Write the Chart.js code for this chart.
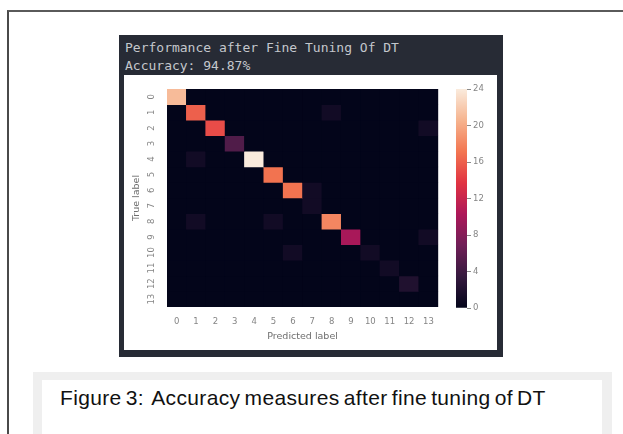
<!DOCTYPE html>
<html>
<head>
<meta charset="utf-8">
<script src="https://cdn.jsdelivr.net/npm/chart.js@4.4.1/dist/chart.umd.min.js"></script>
<style>
html, body { margin:0; padding:0; background:#fff; width:623px; height:434px; overflow:hidden; }
#frame { position:absolute; left:7px; top:10px; width:660px; height:460px; border-left:2px solid #4a4a4a; border-top:2px solid #5a5a5a; }
#panel { position:absolute; left:119px; top:35px; width:384px; height:322px; background:#272b35; }
#head { position:absolute; left:125px; top:39px; font:13px "DejaVu Sans Mono", monospace; color:#c4c7cc; line-height:18px; white-space:pre; }
#sheet { position:absolute; left:124px; top:75px; width:373px; height:275px; background:#fff; }
#heat { position:absolute; left:124px; top:75px; }
#cbar { position:absolute; left:450px; top:75px; }
#cap { position:absolute; left:33px; top:372px; width:579px; height:80px; background:#efefef; }
#capin { position:absolute; left:42px; top:380px; width:560px; height:70px; background:#fff; }
#captxt { position:absolute; left:60px; top:386px; font:21px "Liberation Sans", Arial, sans-serif; color:#111; white-space:pre; word-spacing:-2px; letter-spacing:0.35px; }
</style>
</head>
<body>
<div id="frame"></div>
<div id="panel"></div>
<div id="head">Performance after Fine Tuning Of DT
Accuracy: 94.87%</div>
<div id="sheet"></div>
<canvas id="heat" width="320" height="275"></canvas>
<canvas id="cbar" width="45" height="275"></canvas>
<div id="cap"></div>
<div id="capin"></div>
<div id="captxt">Figure 3:  Accuracy measures after fine tuning of DT</div>
<script>
// class labels (true = rows, predicted = columns)
const classLabels = ['0','1','2','3','4','5','6','7','8','9','10','11','12','13'];

// confusion matrix, one row per true label
const row0  = [21,0,0,0,0,0,0,0,0,0,0,0,0,0];
const row1  = [0,16,0,0,0,0,0,0,1,0,0,0,0,0];
const row2  = [0,0,15,0,0,0,0,0,0,0,0,0,0,1];
const row3  = [0,0,0,5,0,0,0,0,0,0,0,0,0,0];
const row4  = [0,1,0,0,24,0,0,0,0,0,0,0,0,0];
const row5  = [0,0,0,0,0,17,0,0,0,0,0,0,0,0];
const row6  = [0,0,0,0,0,0,17,1,0,0,0,0,0,0];
const row7  = [0,0,0,0,0,0,0,1,0,0,0,0,0,0];
const row8  = [0,1,0,0,0,1,0,0,18,0,0,0,0,0];
const row9  = [0,0,0,0,0,0,0,0,0,10,0,0,0,1];
const row10 = [0,0,0,0,0,0,1,0,0,0,1,0,0,0];
const row11 = [0,0,0,0,0,0,0,0,0,0,0,1,0,0];
const row12 = [0,0,0,0,0,0,0,0,0,0,0,0,2,0];
const row13 = [0,0,0,0,0,0,0,0,0,0,0,0,0,0];
const confusion = [row0,row1,row2,row3,row4,row5,row6,row7,row8,row9,row10,row11,row12,row13];

const vmin = 0;
const vmax = 24;
const colorbarStep = 4;

// seaborn "rocket" colormap, sampled
const rocketStops = ['#03051a','#35193e','#701f57','#ad1759','#e13342','#f37651','#f6b48f','#faebdd'];

function hexRgb(h) { return [1,3,5].map(i => parseInt(h.substr(i,2),16)); }
function rocket(t) {
    t = Math.max(0, Math.min(1, t));
    const n = rocketStops.length - 1;
    const i = Math.min(n - 1, Math.floor(t * n));
    const f = t * n - i;
    const a = hexRgb(rocketStops[i]), b = hexRgb(rocketStops[i+1]);
    const c = a.map((v,k) => Math.round(v + (b[k]-v)*f));
    return `rgb(${c[0]},${c[1]},${c[2]})`;
}

const tickColor = '#858585';
const tickFont = { family: 'DejaVu Sans', size: 8.5 };

// dark fill behind the cells so bar seams don't show white
const cellBackdrop = {
    id: 'cellBackdrop',
    beforeDatasetsDraw(chart) {
        const { ctx, chartArea: a } = chart;
        ctx.save();
        ctx.fillStyle = rocket(0);
        ctx.fillRect(a.left, a.top, a.right - a.left, a.bottom - a.top);
        ctx.restore();
    }
};

// vertical y tick labels like seaborn
const rotatedYTicks = {
    id: 'rotatedYTicks',
    afterDraw(chart) {
        const { ctx, chartArea } = chart;
        const s = chart.scales.yl;
        ctx.save();
        ctx.fillStyle = tickColor;
        ctx.font = `${tickFont.size}px ${tickFont.family}`;
        ctx.textAlign = 'center';
        ctx.textBaseline = 'middle';
        classLabels.forEach((lab, i) => {
            ctx.save();
            ctx.translate(chartArea.left - 15, s.getPixelForTick(i));
            ctx.rotate(-Math.PI / 2);
            ctx.fillText(lab, 0, 0);
            ctx.restore();
        });
        ctx.restore();
    }
};

new Chart(document.getElementById('heat'), {
    type: 'bar',
    data: {
        labels: classLabels,
        datasets: confusion.map((row, r) => ({
            label: 'True ' + classLabels[r],
            data: row.map(() => 1),
            backgroundColor: row.map(v => rocket((v - vmin) / (vmax - vmin))),
            borderWidth: 0,
            barPercentage: 1,
            categoryPercentage: 1,
            stack: 'cm'
        }))
    },
    options: {
        responsive: false,
        animation: false,
        devicePixelRatio: 1,
        layout: { padding: { top: 14, right: 4, left: 0, bottom: 0 } },
        plugins: { legend: { display: false }, tooltip: { enabled: false } },
        scales: {
            x: {
                stacked: true,
                grid: { display: false, drawTicks: false },
                border: { display: false },
                ticks: { color: tickColor, font: tickFont, padding: 10, maxRotation: 0, autoSkip: false },
                title: { display: true, text: 'Predicted label', color: '#6e6e6e', font: { family: 'DejaVu Sans', size: 9.5 }, padding: { top: 1, bottom: 8 } },
                afterFit: s => { s.height = 43; }
            },
            y: { stacked: true, min: 0, max: classLabels.length, reverse: true, display: false },
            yl: {
                type: 'category',
                labels: classLabels,
                position: 'left',
                offset: true,
                grid: { display: false, drawTicks: false },
                border: { display: false },
                ticks: { display: false },
                title: { display: true, text: 'True label', color: '#6e6e6e', font: { family: 'DejaVu Sans', size: 9.5 }, padding: { top: 7, bottom: 0 } },
                afterFit: s => { s.width = 43; }
            }
        }
    },
    plugins: [cellBackdrop, rotatedYTicks]
});

const colorbarTicks = [];
for (let v = vmin; v <= vmax; v += colorbarStep) colorbarTicks.push(v);

new Chart(document.getElementById('cbar'), {
    type: 'bar',
    data: {
        labels: [''],
        datasets: [{
            data: [vmax],
            backgroundColor: c => {
                const { chart } = c;
                if (!chart.chartArea) return rocket(0.5);
                const y = chart.scales.y;
                const g = chart.ctx.createLinearGradient(0, y.getPixelForValue(vmin), 0, y.getPixelForValue(vmax));
                rocketStops.forEach((col, i) => g.addColorStop(i / (rocketStops.length - 1), col));
                return g;
            },
            borderWidth: 0,
            barPercentage: 1,
            categoryPercentage: 1
        }]
    },
    options: {
        responsive: false,
        animation: false,
        devicePixelRatio: 1,
        layout: { padding: { top: 14, left: 6, right: 0, bottom: 42 } },
        plugins: { legend: { display: false }, tooltip: { enabled: false } },
        scales: {
            x: { display: false },
            y: {
                position: 'right',
                min: vmin,
                max: vmax,
                afterBuildTicks: s => { s.ticks = colorbarTicks.map(v => ({ value: v })); },
                grid: { drawOnChartArea: false, tickLength: 4, color: '#8a8a8a' },
                border: { display: false },
                ticks: { color: tickColor, font: tickFont, padding: 2 },
                afterFit: s => { s.width = 28; }
            }
        }
    }
});
</script>
</body>
</html>
